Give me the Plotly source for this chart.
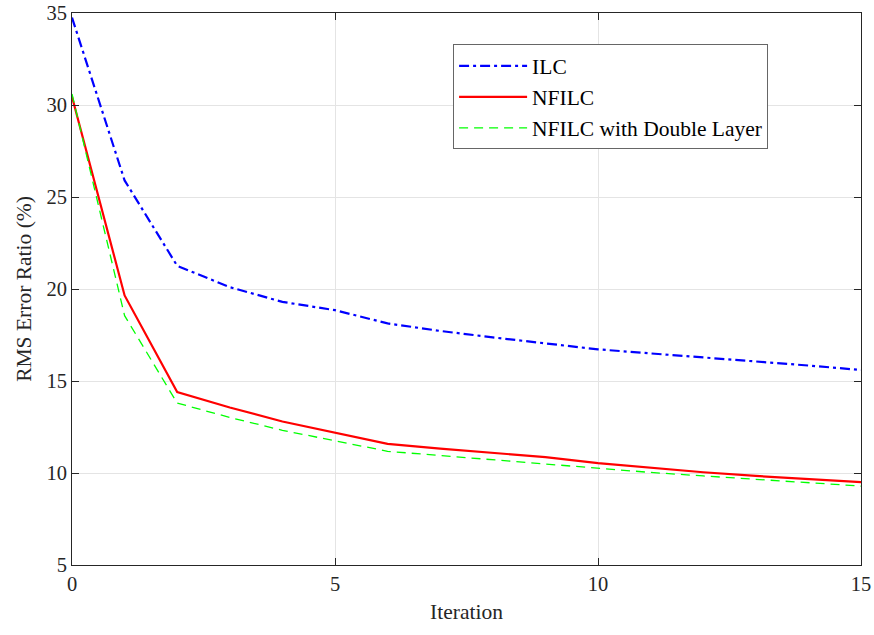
import plotly.graph_objects as go

# RMS tracking error per learning iteration for the three controllers
iterations = list(range(16))
ilc = [34.75, 25.9, 21.26, 20.1, 19.3, 18.85, 18.13, 17.72, 17.37, 17.03,
       16.72, 16.5, 16.29, 16.06, 15.84, 15.6]
nfilc = [30.45, 19.65, 14.4, 13.56, 12.8, 12.18, 11.58, 11.33, 11.09, 10.86,
         10.54, 10.28, 10.04, 9.84, 9.66, 9.5]
nfilc_double = [30.6, 18.55, 13.8, 13.02, 12.32, 11.76, 11.18, 10.95, 10.71, 10.51,
                10.26, 10.03, 9.84, 9.65, 9.47, 9.29]

x_ticks = [0, 5, 10, 15]
y_ticks = [5, 10, 15, 20, 25, 30, 35]

SERIF = "Liberation Serif, Times New Roman, serif"
AXIS_COLOR = "#262626"
GRID_COLOR = "#E4E4E4"

fig = go.Figure()
fig.add_trace(go.Scatter(
    x=iterations, y=ilc, mode="lines", name="ILC",
    line=dict(color="#0000FF", width=2.2, dash="10px,4px,3px,4px"),
))
fig.add_trace(go.Scatter(
    x=iterations, y=nfilc, mode="lines", name="NFILC",
    line=dict(color="#FF0000", width=2.2),
))
fig.add_trace(go.Scatter(
    x=iterations, y=nfilc_double, mode="lines", name="NFILC with Double Layer",
    line=dict(color="#00FF00", width=1.3, dash="9px,6px"),
))

axis_common = dict(
    showline=True, linecolor=AXIS_COLOR, linewidth=1, mirror="ticks",
    ticks="inside", ticklen=7, tickcolor=AXIS_COLOR, tickwidth=1,
    showgrid=True, gridcolor=GRID_COLOR, gridwidth=1, zeroline=False,
    automargin=False, ticklabeloverflow="allow",
    tickfont=dict(family=SERIF, size=20.5, color=AXIS_COLOR),
    title_font=dict(family=SERIF, size=21.5, color=AXIS_COLOR),
)

fig.update_xaxes(
    range=[0, 15], tickvals=x_ticks, title_text="Iteration",
    title_standoff=10, **axis_common,
)
fig.update_yaxes(
    range=[5, 35], tickvals=y_ticks, title_text="RMS Error Ratio (%)",
    title_standoff=8, **axis_common,
)

fig.update_layout(
    width=874, height=635,
    margin=dict(l=72, r=13, t=13, b=70),
    paper_bgcolor="white", plot_bgcolor="white",
    font=dict(family=SERIF, size=21, color="black"),
    showlegend=True,
    legend=dict(
        x=0.483, y=0.943, xanchor="left", yanchor="top",
        bgcolor="white", bordercolor="#666666", borderwidth=1,
        font=dict(family=SERIF, size=21.5, color="black"),
        itemwidth=68, tracegroupgap=0,
    ),
)

fig.write_html("out.html")
